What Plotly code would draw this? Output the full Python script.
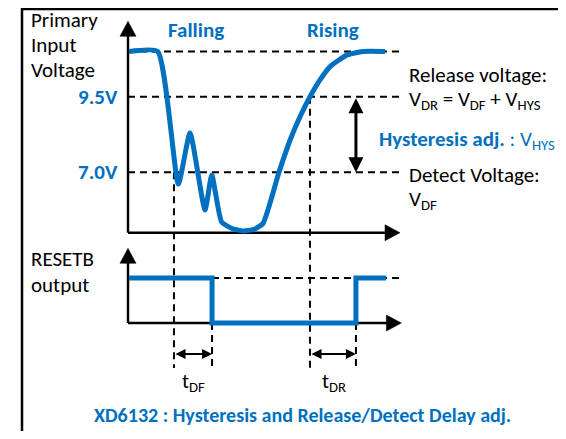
import plotly.graph_objects as go

BLUE = "#0070C0"
BLACK = "#000000"
FONT = "Carlito, Lato, 'Liberation Sans', sans-serif"

# ---------------- data ----------------
# Primary input voltage waveform (time: arbitrary units 0-100, voltage: V)
input_time = [0.5, 10.9, 18.5, 22.8, 28.3, 30.8, 34.4, 38.2, 42.3, 46.3, 49.6,
              55.5, 59.6, 63.2, 66.9, 70.6, 74.3, 80.4, 86.4, 94.5]
input_volt = [11.0, 11.0, 6.61, 8.30, 5.75, 6.91, 5.36, 5.14, 5.06, 5.11, 5.30,
              7.0, 8.07, 8.83, 9.5, 10.06, 10.5, 10.88, 11.0, 11.0]

# RESETB output (0 = low, 1 = high)
reset_time = [0.4, 30.9, 30.9, 83.8, 83.8, 94.9]
reset_level = [1, 1, 0, 0, 1, 1]

# reference levels on the voltage axis
level_volts = [11.0, 9.5, 7.0]
level_labels = ["", "9.5V", "7.0V"]
detect_volt = 7.0
release_volt = 9.5

# timing marks
detect_time = 16.9      # input crosses 7.0 V falling
release_time = 66.9     # input crosses 9.5 V rising
reset_fall_time = 30.9  # RESETB goes low  (detect_time + tDF)
reset_rise_time = 83.8  # RESETB goes high (release_time + tDR)

# axis extents
volt_axis = [5.0, 12.0]
time_axis = [0.0, 100.0]
reset_axis = [0.0, 1.66]
reset_time_axis = [0.0, 100.5]
marker_depth = -1.0     # lower end of timing guide lines (RESETB units)
delay_arrow_level = -0.69

# ---------------- layout geometry (page pixels) ----------------
PAGE_W, PAGE_H = 566, 439
OFF = 8                              # browser body margin
W, H = PAGE_W - 2 * OFF, PAGE_H - 2 * OFF
T_PX0, T_SCALE = 128.0, 2.72         # t=0 at page x, px per time unit
V_PX_REF, V_SCALE = 172.3, 30.2      # 7.0 V at page y, px per volt
R_PX0, R_SCALE = 323.0, 45.0         # RESETB 0 at page y, px per unit

x_range = [-(T_PX0 - OFF) / T_SCALE, (OFF + W - T_PX0) / T_SCALE]
y_range = [detect_volt - (OFF + H - V_PX_REF) / V_SCALE, detect_volt + (V_PX_REF - OFF) / V_SCALE]
y2_range = [-(OFF + H - R_PX0) / R_SCALE, (R_PX0 - OFF) / R_SCALE]


def r_to_v(r):
    p = R_PX0 - r * R_SCALE
    return detect_volt + (V_PX_REF - p) / V_SCALE


def px(x):
    return (x - OFF) / W


def py(y):
    return 1 - (y - OFF) / H


fig = go.Figure()

fig.add_trace(go.Scatter(
    x=input_time, y=input_volt, mode="lines",
    line=dict(color=BLUE, width=5, shape="spline", smoothing=0.5),
    hoverinfo="skip", showlegend=False))

fig.add_trace(go.Scatter(
    x=reset_time, y=reset_level, mode="lines", yaxis="y2",
    line=dict(color=BLUE, width=5),
    hoverinfo="skip", showlegend=False))

shapes = []
DASH = "7px,5px"

# horizontal dashed levels (top)
for v in level_volts:
    shapes.append(dict(type="line", xref="x", yref="y", x0=time_axis[0], x1=time_axis[1] + 0.5,
                       y0=v, y1=v, line=dict(color=BLACK, width=2, dash=DASH), layer="below"))
# RESETB high level
shapes.append(dict(type="line", xref="x", yref="y2", x0=reset_time_axis[0], x1=time_axis[1],
                   y0=1, y1=1, line=dict(color=BLACK, width=2, dash=DASH), layer="below"))

# vertical guide lines
shapes.append(dict(type="line", xref="x", yref="y", x0=detect_time, x1=detect_time,
                   y0=detect_volt, y1=r_to_v(marker_depth),
                   line=dict(color=BLACK, width=2, dash=DASH), layer="below"))
shapes.append(dict(type="line", xref="x", yref="y", x0=release_time, x1=release_time,
                   y0=release_volt, y1=r_to_v(marker_depth),
                   line=dict(color=BLACK, width=2, dash=DASH), layer="below"))
for t in (reset_fall_time, reset_rise_time):
    shapes.append(dict(type="line", xref="x", yref="y2", x0=t, x1=t,
                       y0=0, y1=marker_depth,
                       line=dict(color=BLACK, width=2, dash=DASH), layer="below"))

# axes with arrowheads
HEAD_LEN, HEAD_HALF = 15.0, 8.0


def axes(yref, y_lo, y_hi, v_scale, t_hi):
    out = []
    out.append(dict(type="line", xref="x", yref=yref, x0=time_axis[0], x1=time_axis[0],
                    y0=y_lo, y1=y_hi - (HEAD_LEN - 2) / v_scale,
                    line=dict(color=BLACK, width=2.5), layer="below"))
    out.append(dict(type="line", xref="x", yref=yref, x0=time_axis[0], x1=t_hi - (HEAD_LEN - 2) / T_SCALE,
                    y0=y_lo, y1=y_lo, line=dict(color=BLACK, width=2.5), layer="below"))
    hw = HEAD_HALF / T_SCALE
    hl = HEAD_LEN / v_scale
    out.append(dict(type="path", xref="x", yref=yref,
                    path=f"M {time_axis[0]-hw},{y_hi-hl} L {time_axis[0]+hw},{y_hi-hl} L {time_axis[0]},{y_hi} Z",
                    fillcolor=BLACK, line=dict(color=BLACK, width=0.5), layer="below"))
    hl2 = HEAD_LEN / T_SCALE
    hw2 = HEAD_HALF / v_scale
    out.append(dict(type="path", xref="x", yref=yref,
                    path=f"M {t_hi-hl2},{y_lo-hw2} L {t_hi-hl2},{y_lo+hw2} L {t_hi},{y_lo} Z",
                    fillcolor=BLACK, line=dict(color=BLACK, width=0.5), layer="below"))
    return out


shapes += axes("y", volt_axis[0], volt_axis[1], V_SCALE, time_axis[1])
shapes += axes("y2", reset_axis[0], reset_axis[1], R_SCALE, reset_time_axis[1])

# outer frame (left and top edges; right/bottom lie outside the picture)
shapes.append(dict(type="line", xref="paper", yref="paper", x0=px(22), x1=px(22), y0=0, y1=1,
                   line=dict(color=BLACK, width=2.5)))
shapes.append(dict(type="line", xref="paper", yref="paper", x0=px(22), x1=1, y0=py(9), y1=py(9),
                   line=dict(color=BLACK, width=2.5)))

annotations = []


def text(t, x, y, xanchor="left", size=21, color=BLACK):
    annotations.append(dict(text=t, x=px(x), y=py(y), xref="paper", yref="paper",
                            xanchor=xanchor, yanchor="middle", showarrow=False,
                            font=dict(family=FONT, size=size, color=color)))


text("Primary", 29, 20)
text("Input", 29, 45)
text("Voltage", 29, 70)
for v, lab in zip(level_volts, level_labels):
    if lab:
        annotations.append(dict(text=f"<b>{lab}</b>", x=-3.0, y=v, xref="x", yref="y",
                                xanchor="right", yanchor="middle", showarrow=False,
                                font=dict(family=FONT, size=21, color=BLUE)))
text("<b>Falling</b>", 196, 30, "center", 21, BLUE)
text("<b>Rising</b>", 333, 30, "center", 21, BLUE)
text("Release voltage:", 407, 75)
text("V<sub>DR</sub> = V<sub>DF</sub> + V<sub>HYS</sub>", 407, 100)
text("<b>Hysteresis adj.</b> : V<sub>HYS</sub>", 377, 140, "left", 21, BLUE)
text("Detect Voltage:", 407, 175)
text("V<sub>DF</sub>", 407, 200)
text("RESETB", 29, 259)
text("output", 29, 285)
text("t<sub>DF</sub>", 180, 382)
text("t<sub>DR</sub>", 320, 382)
text("<b>XD6132 : Hysteresis and Release/Detect Delay adj.</b>", 302, 415, "center", 20, BLUE)

# double arrows
for x0, x1 in ((detect_time, reset_fall_time), (release_time, reset_rise_time)):
    annotations.append(dict(text="", x=x1, y=delay_arrow_level, ax=x0, ay=delay_arrow_level,
                            xref="x", yref="y2", axref="x", ayref="y2", showarrow=True,
                            arrowhead=2, startarrowhead=2, arrowside="end+start",
                            arrowwidth=2, arrowsize=1, startarrowsize=1,
                            standoff=0, startstandoff=0, arrowcolor=BLACK))
annotations.append(dict(text="", x=reset_rise_time, y=detect_volt, ax=reset_rise_time, ay=release_volt,
                        xref="x", yref="y", axref="x", ayref="y", showarrow=True,
                        arrowhead=2, startarrowhead=2, arrowside="end+start",
                        arrowwidth=3, arrowsize=1, startarrowsize=1,
                        standoff=0, startstandoff=0, arrowcolor=BLACK))

fig.update_layout(
    width=W, height=H,
    margin=dict(l=0, r=0, t=0, b=0),
    paper_bgcolor="white", plot_bgcolor="white",
    xaxis=dict(range=x_range, visible=False, fixedrange=True),
    yaxis=dict(range=y_range, visible=False, fixedrange=True, domain=[0, 1]),
    yaxis2=dict(range=y2_range, visible=False, fixedrange=True, overlaying="y", domain=[0, 1]),
    shapes=shapes,
    annotations=annotations,
    showlegend=False,
)

fig.write_html("out.html")
